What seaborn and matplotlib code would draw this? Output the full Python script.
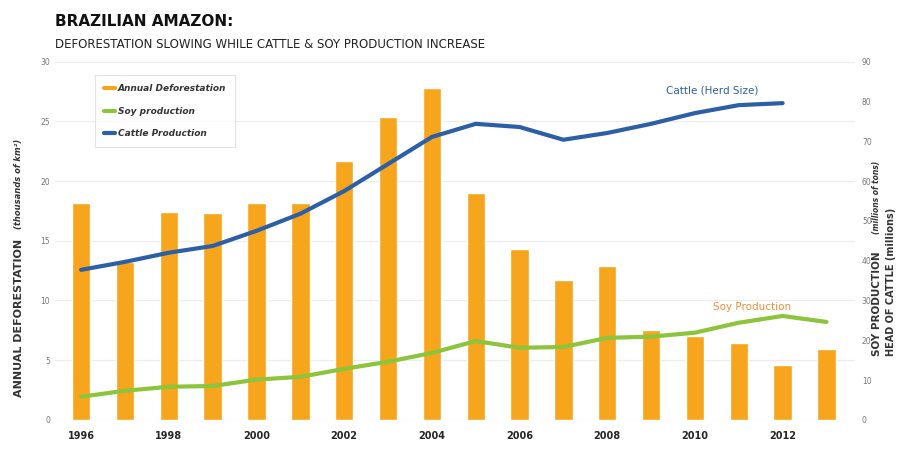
import numpy as np
import pandas as pd
import matplotlib
matplotlib.use("Agg")
import matplotlib.pyplot as plt
from matplotlib.lines import Line2D
import seaborn as sns

years = list(range(1996, 2014))
deforestation = [18.2, 13.2, 17.4, 17.3, 18.2, 18.2, 21.7, 25.4, 27.8, 19.0,
                 14.3, 11.7, 12.9, 7.5, 7.0, 6.4, 4.6, 5.9]
cattle_years = list(range(1996, 2013))
cattle = [37.7, 39.7, 42.0, 43.7, 47.5, 51.8, 57.5, 64.3, 71.1, 74.4,
          73.6, 70.4, 72.1, 74.4, 77.1, 79.1, 79.6]
soy = [5.8, 7.3, 8.3, 8.5, 10.1, 10.8, 12.8, 14.6, 16.8, 19.8,
       18.1, 18.3, 20.6, 20.9, 21.9, 24.4, 26.1, 24.6]
year_ticks = list(range(1996, 2013, 2))

ORANGE = "#F7A51C"
GREEN = "#8CC43C"
BLUE = "#2D5FA6"

sns.set_style("white")
plt.rcParams["font.family"] = ["DejaVu Sans"]

fig = plt.figure(figsize=(8.99, 4.68), dpi=100)
ax = fig.add_axes([0.061, 0.103, 0.89, 0.765])

df = pd.DataFrame({"year": years, "defor": deforestation})
sns.barplot(data=df, x="year", y="defor", native_scale=True, width=0.42,
            color=ORANGE, saturation=1, ax=ax)
ax.set_ylim(0, 30)
ax.set_xlim(1995.4, 2013.65)
ax.set_yticks(range(0, 31, 5))
ax.set_xticks(year_ticks)
ax.set_xticklabels([str(y) for y in year_ticks], fontsize=7, fontweight="bold")
ax.tick_params(axis="y", labelsize=5.5, labelcolor="#777777", length=0)
ax.tick_params(axis="x", length=0, pad=8)
ax.yaxis.grid(True, color="#ececec", linewidth=0.8)
ax.set_axisbelow(True)
for s in ax.spines.values():
    s.set_visible(False)
ax.set_xlabel("")
ax.set_ylabel("")

ax2 = ax.twinx()
sns.lineplot(x=cattle_years, y=cattle, color=BLUE, linewidth=3, ax=ax2)
sns.lineplot(x=years, y=soy, color=GREEN, linewidth=3, ax=ax2)
ax2.set_ylim(0, 90)
ax2.set_yticks(range(0, 91, 10))
ax2.tick_params(axis="y", labelsize=5.5, labelcolor="#777777", length=0, pad=5)
for s in ax2.spines.values():
    s.set_visible(False)
ax2.set_xlim(1995.4, 2013.65)

ax2.text(2010.4, 81.5, "Cattle (Herd Size)", color=BLUE, fontsize=7.5,
         ha="center", va="bottom")
ax2.text(2011.3, 27.0, "Soy Production", color="#F28C3A", fontsize=7.5,
         ha="center", va="bottom")

handles = [Line2D([0], [0], color=ORANGE, lw=3),
           Line2D([0], [0], color=GREEN, lw=3),
           Line2D([0], [0], color=BLUE, lw=3)]
leg = ax.legend(handles, ["Annual Deforestation", "Soy production", "Cattle Production"],
                loc="upper left", bbox_to_anchor=(0.045, 0.975), frameon=True,
                prop={"size": 6.5, "style": "italic", "weight": "bold"},
                handlelength=1.2, handletextpad=0.3, labelspacing=1.5,
                borderpad=1.0, fancybox=False)
leg.get_frame().set_edgecolor("#dddddd")
leg.get_frame().set_linewidth(0.8)
for t in leg.get_texts():
    t.set_color("#333333")

fig.text(0.061, 0.955, "BRAZILIAN AMAZON:", fontsize=11, fontweight="bold",
         ha="left", va="center", color="#111111")
fig.text(0.061, 0.905, "DEFORESTATION SLOWING WHILE CATTLE & SOY PRODUCTION INCREASE",
         fontsize=8.5, ha="left", va="center", color="#222222")

fig.text(0.021, 0.49, "ANNUAL DEFORESTATION", rotation=90, fontsize=8,
         fontweight="bold", ha="center", va="top", color="#333333")
fig.text(0.021, 0.51, "(thousands of km²)", rotation=90, fontsize=6,
         style="italic", fontweight="bold", ha="center", va="bottom", color="#333333")
fig.text(0.975, 0.24, "SOY PRODUCTION", rotation=90, fontsize=7.5,
         fontweight="bold", ha="center", va="bottom", color="#333333")
fig.text(0.975, 0.50, "(millions of tons)", rotation=90, fontsize=5.5,
         style="italic", fontweight="bold", ha="center", va="bottom", color="#333333")
fig.text(0.991, 0.24, "HEAD OF CATTLE (millions)", rotation=90, fontsize=7,
         fontweight="bold", ha="center", va="bottom", color="#333333")

fig.savefig("out.png", dpi=100)
